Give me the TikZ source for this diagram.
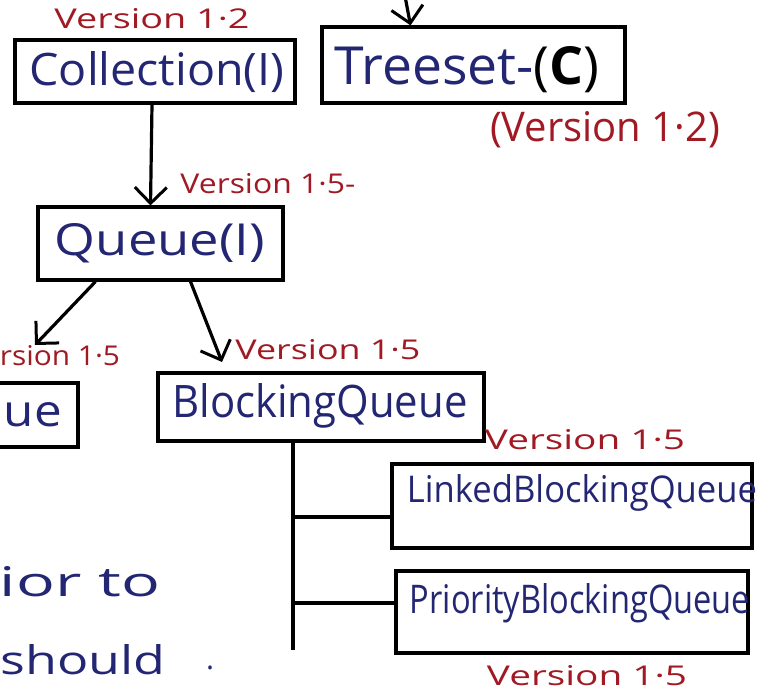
\documentclass[tikz,border=0pt]{standalone}
\usepackage{fontspec}
\setmainfont{Open Sans}
\usetikzlibrary{arrows.meta}
\definecolor{ink}{RGB}{35,38,115}
\definecolor{redink}{RGB}{160,25,35}
% scale a piece of text to a given width and height
\newcommand\hwtext[3]{\resizebox{#1}{#2}{#3}}
\begin{document}
\begin{tikzpicture}[x=1pt,y=-1pt,
  pen/.style={line width=3.2pt,black},
  box/.style={pen,draw,rectangle,inner sep=0pt},
  cls/.style={text=ink,inner sep=0pt},
  ver/.style={text=redink,inner sep=0pt},
  arr/.style={pen,-{Straight Barb[length=16pt,width=32pt,line width=3pt]}}]
\useasboundingbox (0,0) rectangle (771,696);
\clip (0,0) rectangle (771,696);
\fill[white] (0,0) rectangle (771,696);

% boxes
\node[box,minimum width=280pt,minimum height=63pt] (coll) at (155,71.5) {};
\node[box,minimum width=303pt,minimum height=76pt] (tree) at (473.5,65) {};
\node[box,minimum width=245pt,minimum height=73pt] (queue) at (160.5,243.5) {};
\node[box,minimum width=140pt,minimum height=64pt] (deque) at (8,415) {};
\node[box,minimum width=326pt,minimum height=68pt] (bq) at (321,407) {};
\node[box,minimum width=360pt,minimum height=84pt] (lbq) at (572,506) {};
\node[box,minimum width=352pt,minimum height=82pt] (pbq) at (572,612) {};

% class names
\node[cls] (colltext) at (157,72) {\hwtext{255pt}{34pt}{Collection(I)}};
\node[cls] (treetext) at (467,70) {\hwtext{265pt}{38pt}{Treeset-{\color{black}(\textbf{C})}}};
\node[cls] (queuetext) at (160,243) {\hwtext{210pt}{32pt}{Queue(I)}};
\node[cls] (dequetext) at (33,415) {\hwtext{58pt}{24pt}{ue}};
\node[cls] (bqtext) at (320,406) {\hwtext{295pt}{34pt}{BlockingQueue}};
\node[cls] (lbqtext) at (582,493) {\hwtext{350pt}{28pt}{LinkedBlockingQueue}};
\node[cls] (pbqtext) at (580,603) {\hwtext{340pt}{30pt}{PriorityBlockingQueue}};

% version notes
\node[ver] (v12a) at (152,19) {\hwtext{195pt}{20pt}{Version 1·2}};
\node[ver] (v12b) at (605,130) {\hwtext{230pt}{30pt}{(Version 1·2)}};
\node[ver] (v15a) at (268,184) {\hwtext{175pt}{20pt}{Version 1·5-}};
\node[ver] (v15b) at (60,356) {\hwtext{120pt}{20pt}{rsion 1·5}};
\node[ver] (v15c) at (328,350) {\hwtext{185pt}{20pt}{Version 1·5}};
\node[ver] (v15d) at (585,440) {\hwtext{200pt}{20pt}{Version 1·5}};
\node[ver] (v15e) at (587,676) {\hwtext{200pt}{20pt}{Version 1·5}};

% running text at the lower left
\node[cls] (txt1) at (80,582) {\hwtext{160pt}{30pt}{ior to}};
\node[cls] (txt2) at (83,660) {\hwtext{165pt}{30pt}{should}};
\node[cls,font=\fontsize{30}{30}\selectfont] (txt3) at (210,668) {.};

% connectors
\coordinate (treein) at (405,-4);
\coordinate (dqin) at (35,345);
\coordinate (bqin) at (222,362);
\draw[arr] (treein) -- ([xshift=-63pt]tree.north);
\draw[arr] ([xshift=-3pt]coll.south) -- ([xshift=-10pt]queue.north);
\draw[arr] ([xshift=-65pt]queue.south) -- (dqin);
\draw[arr] ([xshift=30pt]queue.south) -- (bqin);

% tree of blocking queue implementations
\coordinate (j1) at (293,517);
\coordinate (j2) at (293,603);
\coordinate (trunkend) at (293,650);
\draw[pen] (bq.south -| j1) -- (trunkend);
\draw[pen] (j1) -- (lbq.west |- j1);
\draw[pen] (j2) -- (pbq.west |- j2);
\end{tikzpicture}
\end{document}
